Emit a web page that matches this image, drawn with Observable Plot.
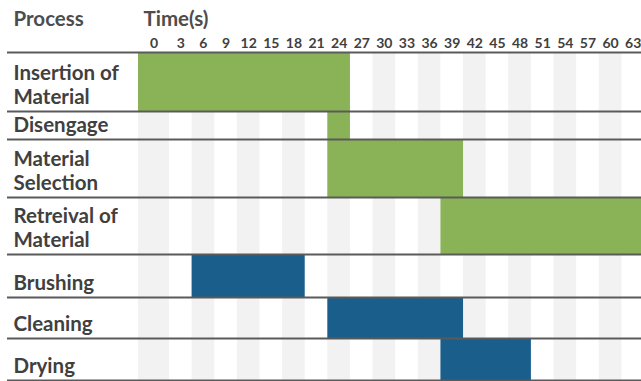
<!DOCTYPE html>
<html><head><meta charset="utf-8">
<script src="https://cdn.jsdelivr.net/npm/d3@7"></script>
<script src="https://cdn.jsdelivr.net/npm/@observablehq/plot@0.6"></script>
<style>html,body{margin:0;padding:0;background:#fff;} svg{display:block}</style>
</head><body><div id="chart"></div>
<script>
// ---- data ----
const processes = ["Insertion of\nMaterial", "Disengage", "Material\nSelection", "Retreival of\nMaterial", "Brushing", "Cleaning", "Drying"];
const startTimes = [0, 24, 24, 39, 6, 24, 39];      // first time column covered
const lastTimes  = [24, 24, 39, 63, 18, 39, 48];    // last time column covered
const groups     = ["A", "A", "A", "A", "B", "B", "B"];
const timeTicks  = [0, 3, 6, 9, 12, 15, 18, 21, 24, 27, 30, 33, 36, 39, 42, 45, 48, 51, 54, 57, 60, 63];
const headerLeft = "Process";
const headerTime = "Time(s)";

// ---- layout (not data) ----
const rowHeights = [59, 28, 58, 57, 43, 41, 42];
const step = 3;
const firstColScale = 1.37;           // the "0" column is wider than the others
const warp = t => t < step ? t * firstColScale : t + step * (firstColScale - 1);
const cum = [0];
rowHeights.forEach(h => cum.push(cum[cum.length - 1] + h));
const total = cum[cum.length - 1];

const rows = processes.map((name, i) => ({
  name, start: startTimes[i], last: lastTimes[i], group: groups[i],
  top: cum[i], bottom: cum[i + 1]
}));
const shaded = timeTicks.filter((t, i) => i % 2 === 0);

const font = "Lato, 'DejaVu Sans', sans-serif";
const textColor = "#404040";

const chart = Plot.plot({
  width: 641,
  height: 381,
  marginTop: 52,
  marginBottom: 1,
  marginLeft: 7,
  marginRight: 0,
  style: {fontFamily: font, background: "#fff"},
  x: {transform: warp, domain: [warp(0), warp(66)], range: [138, 644], axis: null},
  y: {domain: [0, total], range: [52, 380], axis: null},
  color: {domain: ["A", "B"], range: ["#8ab357", "#1a5f8c"]},
  marks: [
    Plot.rect(shaded, {x1: d => d, x2: d => d + step, y1: () => 0, y2: () => total, fill: "#f2f2f2"}),
    Plot.rect(rows, {x1: "start", x2: d => d.last + step, y1: "top", y2: "bottom", fill: "group"}),
    Plot.ruleY(cum, {stroke: "#5a5a5a", strokeWidth: 2}),
    Plot.text(rows, {
      y: "bottom", text: "name", frameAnchor: "left", textAnchor: "start", lineAnchor: "bottom",
      dx: 6, dy: -8, lineHeight: 1.17, fontSize: 20.5, fontWeight: 700, fill: textColor
    }),
    Plot.text([headerLeft], {
      text: d => d, frameAnchor: "top-left", textAnchor: "start", lineAnchor: "bottom",
      dx: 6, dy: -27, fontSize: 20.5, fontWeight: 700, fill: "#4d4d4d"
    }),
    Plot.text([headerTime], {
      x: () => 0, text: d => d, frameAnchor: "top", textAnchor: "start", lineAnchor: "bottom",
      dx: 5, dy: -27, fontSize: 20.5, fontWeight: 700, fill: "#4d4d4d"
    }),
    Plot.text(timeTicks, {
      x: d => d + step / 2, text: d => String(d), frameAnchor: "top", lineAnchor: "bottom",
      dy: -5, fontSize: 14, fontWeight: 700, fill: textColor
    })
  ]
});
document.getElementById("chart").append(chart);
</script>
</body></html>
